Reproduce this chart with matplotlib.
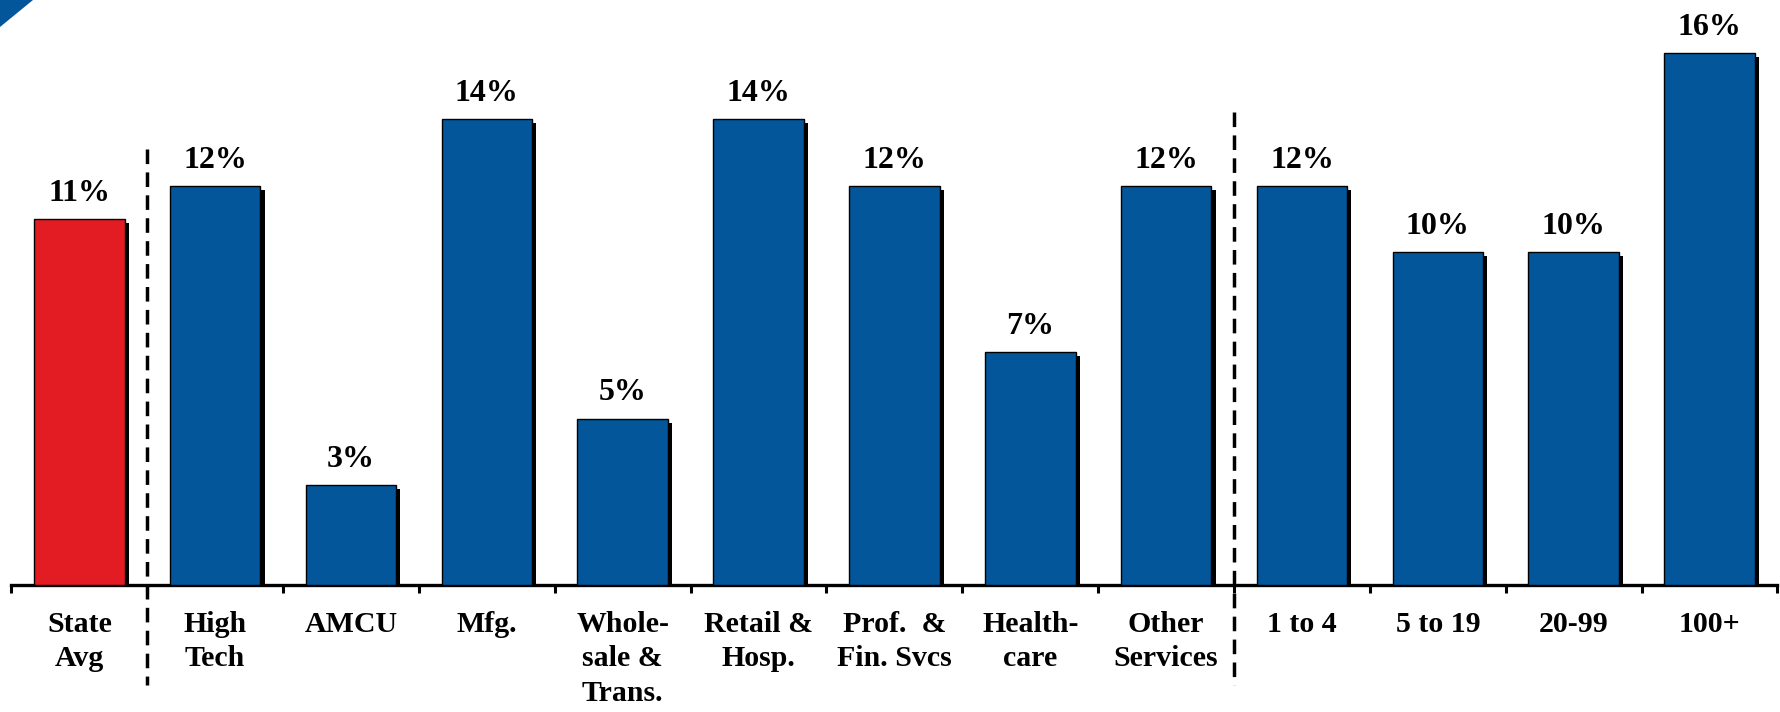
import matplotlib
matplotlib.use("Agg")
import matplotlib.pyplot as plt
import matplotlib.patheffects as pe
from matplotlib.patches import Polygon
import numpy as np

categories = ["State\nAvg", "High\nTech", "AMCU", "Mfg.", "Whole-\nsale &\nTrans.",
              "Retail &\nHosp.", "Prof.  &\nFin. Svcs", "Health-\ncare", "Other\nServices",
              "1 to 4", "5 to 19", "20-99", "100+"]
values = [11, 12, 3, 14, 5, 14, 12, 7, 12, 12, 10, 10, 16]
value_labels = ["11%", "12%", "3%", "14%", "5%", "14%", "12%", "7%", "12%", "12%", "10%", "10%", "16%"]
separators = [0.5, 8.5]

RED = "#E31B23"
BLUE = "#03569A"
colors = [RED] + [BLUE] * (len(values) - 1)

plt.rcParams['font.family'] = ['Liberation Serif', 'DejaVu Serif']
plt.rcParams['font.weight'] = 'bold'

fig = plt.figure(figsize=(17.81, 7.12), dpi=100)
ax = fig.add_axes([0.0064, 0.1786, 0.9916, 0.8214])

x = np.arange(len(values))
bars = ax.bar(x, values, width=0.667, color=colors, edgecolor='black', linewidth=1.0, zorder=3)
for b in bars:
    b.set_path_effects([pe.SimplePatchShadow(offset=(3, -3), shadow_rgbFace='black', alpha=1.0),
                        pe.Normal()])

for xi, v, lab in zip(x, values, value_labels):
    ax.annotate(lab, (xi, v), xytext=(0, 13), textcoords='offset points',
                ha='center', va='baseline', fontsize=23, fontweight='bold')

ax.set_xlim(-0.5, len(values) - 0.5)
ax.set_ylim(0, 17.58)

for s in ['top', 'right', 'left']:
    ax.spines[s].set_visible(False)
ax.spines['bottom'].set_linewidth(2.4)
ax.set_yticks([])

ax.set_xticks(x)
ax.set_xticklabels(categories, fontsize=21.5, fontweight='bold', linespacing=1.34)
ax.tick_params(axis='x', which='major', length=0, pad=19)
ax.set_xticks(np.arange(-0.5, len(values)), minor=True)
ax.tick_params(axis='x', which='minor', length=6, width=2.2, direction='out', color='black')

sep_tops = [13.1, 14.2]
for sx, top in zip(separators, sep_tops):
    ax.plot([sx, sx], [top, -3.0], color='black', linestyle=(0, (4.2, 2.4)), linewidth=2.5,
            clip_on=False, zorder=4)

# decorative corner
fig.patches.append(Polygon([[0, 1], [33 / 1781, 1], [0, 1 - 27 / 712]], closed=True,
                           transform=fig.transFigure, facecolor=BLUE, edgecolor='none'))

fig.savefig("out.png", dpi=100)
